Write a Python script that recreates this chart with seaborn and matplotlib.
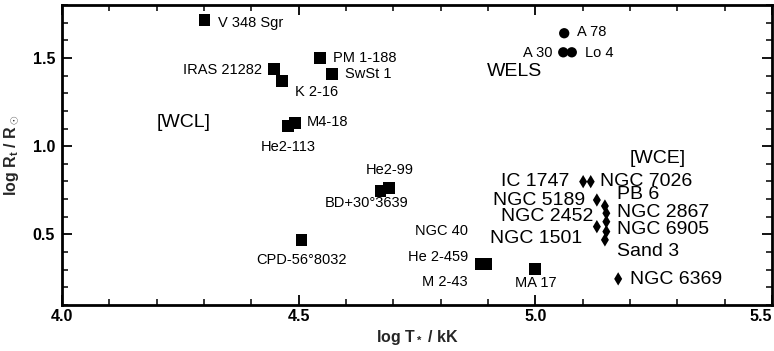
import matplotlib
matplotlib.use("Agg")
import matplotlib.pyplot as plt
import seaborn as sns
import pandas as pd
from matplotlib.ticker import MultipleLocator
from matplotlib import font_manager as fm

# ---------------- data ----------------
wcl_names = ["V 348 Sgr", "PM 1-188", "SwSt 1", "IRAS 21282", "K 2-16", "M4-18",
             "He2-113", "He2-99", "BD+30°3639", "CPD-56°8032",
             "NGC 40", "He 2-459", "M 2-43", "MA 17"]
wcl_logT = [4.301, 4.545, 4.570, 4.448, 4.464, 4.492, 4.477, 4.691, 4.673, 4.506,
            4.886, 4.895, 4.890, 5.000]
wcl_logR = [1.713, 1.498, 1.411, 1.437, 1.371, 1.133, 1.116, 0.765, 0.748, 0.467,
            0.333, 0.333, 0.330, 0.306]

wels_names = ["A 78", "A 30", "Lo 4"]
wels_logT = [5.061, 5.059, 5.077]
wels_logR = [1.640, 1.532, 1.532]

wce_names = ["IC 1747", "NGC 7026", "NGC 5189", "PB 6", "NGC 2867", "NGC 6905",
             "NGC 2452", "NGC 1501", "Sand 3", "NGC 6369"]
wce_logT = [5.101, 5.117, 5.130, 5.147, 5.150, 5.150, 5.130, 5.150, 5.147, 5.175]
wce_logR = [0.799, 0.799, 0.695, 0.661, 0.620, 0.572, 0.544, 0.516, 0.469, 0.248]

group_names = ["[WCL]", "WELS", "[WCE]"]
group_logT = [4.256, 4.957, 5.259]
group_logR = [1.137, 1.426, 0.930]

x_ticks = [4.0, 4.5, 5.0, 5.5]
y_ticks = [0.5, 1.0, 1.5]

# ---------------- label placement (styles, offsets in points) ----------------
wcl_off = [(9.6, -1.9, "left"), (9.4, 0, "left"), (9.6, 0, "left"), (-8.6, -0.7, "right"),
           (9.6, -8.1, "left"), (8.6, 0.5, "left"), (0, -15.3, "center"),
           (0.7, 12.7, "center"), (-9.9, -8.9, "center"), (0, -14.2, "center"),
           (-9.6, 23.8, "right"), (-12.7, 5.0, "right"), (-11, -12.5, "right"),
           (0, -10.3, "center")]
wels_off = [(9.4, 0.9, "left"), (-7.4, -0.5, "right"), (9.6, -0.5, "left")]
wce_off = [(-9.6, 0, "right"), (6.7, 0, "left"), (-8.4, 0, "right"), (8.6, 8.6, "left"),
           (7.4, 0.2, "left"), (7.4, -5.3, "left"), (-2.7, 7.0, "right"),
           (-17, -5.3, "right"), (8.6, -8.6, "left"), (8.6, -0.7, "left")]

sns.set_theme(style="ticks")
available = {f.name for f in fm.fontManager.ttflist}
narrow_choices = [n for n in ["Liberation Sans Narrow", "DejaVu Sans Condensed"] if n in available]
HAVE_NARROW = len(narrow_choices) > 0
NARROW = narrow_choices + ["Liberation Sans", "DejaVu Sans"]
REG = ["Liberation Sans", "DejaVu Sans"]
plt.rcParams["font.family"] = REG
plt.rcParams["mathtext.fontset"] = "custom"
plt.rcParams["mathtext.rm"] = "Liberation Sans:bold"
plt.rcParams["mathtext.it"] = "Liberation Sans:bold"
plt.rcParams["mathtext.bf"] = "Liberation Sans:bold"

lab_fs = 12.5 if HAVE_NARROW else 10.5
grp_fs = 16 if HAVE_NARROW else 14

fig = plt.figure(figsize=(7.74, 3.51), dpi=100)
ax = fig.add_axes([62 / 774, 46 / 351, 710 / 774, 300 / 351])

df_wcl = pd.DataFrame({"logT": wcl_logT, "logR": wcl_logR})
df_wels = pd.DataFrame({"logT": wels_logT, "logR": wels_logR})
df_wce = pd.DataFrame({"logT": wce_logT, "logR": wce_logR})

sns.scatterplot(data=df_wcl, x="logT", y="logR", marker="s", s=72, color="black",
                edgecolor="none", ax=ax, zorder=3)
sns.scatterplot(data=df_wels, x="logT", y="logR", marker="o", s=55, color="black",
                edgecolor="none", ax=ax, zorder=3)
sns.scatterplot(data=df_wce, x="logT", y="logR", marker="d", s=46, color="black",
                edgecolor="none", ax=ax, zorder=3)

for names, xs, ys, offs, fam, fs in [
        (wcl_names, wcl_logT, wcl_logR, wcl_off, NARROW, lab_fs),
        (wels_names, wels_logT, wels_logR, wels_off, NARROW, lab_fs),
        (wce_names, wce_logT, wce_logR, wce_off, REG, 14)]:
    for n, x, y, (dx, dy, ha) in zip(names, xs, ys, offs):
        ax.annotate(n, (x, y), xytext=(dx, dy), textcoords="offset points",
                    ha=ha, va="center", fontsize=fs, family=fam, color="black")

for n, x, y in zip(group_names, group_logT, group_logR):
    ax.text(x, y, n, ha="center", va="center", fontsize=grp_fs, family=NARROW, color="black")

ax.set_xlim(4.0, 5.5)
ax.set_ylim(0.1, 1.8)
ax.set_xticks(x_ticks)
ax.set_yticks(y_ticks)
ax.set_xticklabels([f"{v:.1f}" for v in x_ticks])
ax.set_yticklabels([f"{v:.1f}" for v in y_ticks])
ax.xaxis.set_minor_locator(MultipleLocator(0.1))
ax.yaxis.set_minor_locator(MultipleLocator(0.1))
ax.tick_params(which="both", direction="in", top=True, right=True, colors="black",
               labelsize=11.5)
ax.tick_params(axis="x", which="both", pad=3)
ax.tick_params(axis="y", which="both", pad=5)
ax.tick_params(which="major", length=7, width=1.3)
ax.tick_params(which="minor", length=4.5, width=1.1)
for lab in ax.get_xticklabels() + ax.get_yticklabels():
    lab.set_fontweight("bold")
ax.get_xticklabels()[-1].set_horizontalalignment("right")
for sp in ax.spines.values():
    sp.set_linewidth(2.0)
    sp.set_color("black")

ax.set_xlabel(r"log T$_*$ / kK", fontsize=11.5, fontweight="bold", labelpad=2.5)
ax.set_ylabel(r"log R$_{\rm t}$ / R$_\odot$", fontsize=11.5, fontweight="bold", labelpad=8)
ax.grid(False)

fig.savefig("out.png", dpi=100)
